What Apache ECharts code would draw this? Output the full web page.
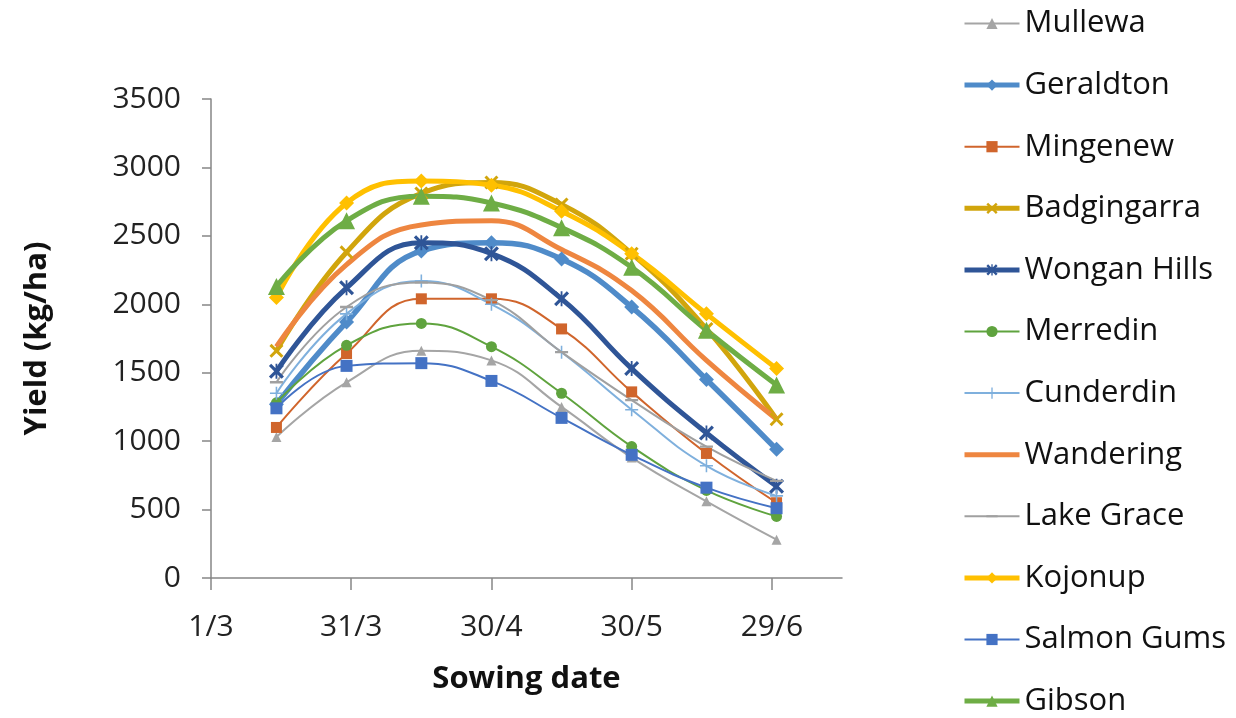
<!DOCTYPE html>
<html>
<head>
<meta charset="utf-8">
<script src="https://cdn.jsdelivr.net/npm/echarts@6/dist/echarts.min.js"></script>
<style>html,body{margin:0;padding:0;background:#fff}#c{width:1236px;height:718px}</style>
</head>
<body>
<div id="c"></div>
<script>
// Sowing dates as days after 1 March: 15/3, 30/3, 15/4, 30/4, 15/5, 30/5, 15/6, 30/6
const sowingDays = [14, 29, 45, 60, 75, 90, 106, 121];
const xTickValues = [0, 30, 60, 90, 120];
const xTickLabels = ['1/3', '31/3', '30/4', '30/5', '29/6'];

const mullewa     = [1030, 1430, 1660, 1590, 1250, 880, 560, 280];
const geraldton   = [1270, 1870, 2390, 2450, 2330, 1980, 1450, 940];
const mingenew    = [1100, 1640, 2040, 2040, 1820, 1360, 910, 550];
const badgingarra = [1660, 2380, 2810, 2890, 2730, 2370, 1820, 1160];
const wonganHills = [1510, 2120, 2450, 2370, 2040, 1530, 1060, 670];
const merredin    = [1280, 1700, 1860, 1690, 1350, 960, 640, 450];
const cunderdin   = [1350, 1930, 2170, 2000, 1650, 1230, 820, 600];
const wandering   = [1690, 2290, 2580, 2610, 2400, 2100, 1590, 1160];
const lakeGrace   = [1430, 1980, 2160, 2030, 1650, 1300, 960, 710];
const kojonup     = [2050, 2740, 2900, 2870, 2680, 2370, 1930, 1530];
const salmonGums  = [1240, 1550, 1570, 1440, 1170, 900, 660, 510];
const gibson      = [2130, 2610, 2790, 2740, 2560, 2270, 1810, 1410];

const X_PATH = 'path://M0,1.5L1.5,0L5,3.5L8.5,0L10,1.5L6.5,5L10,8.5L8.5,10L5,6.5L1.5,10L0,8.5L3.5,5Z';
const STAR_PATH = 'path://M0,1.5L1.5,0L5,3.5L8.5,0L10,1.5L6.5,5L10,8.5L8.5,10L5,6.5L1.5,10L0,8.5L3.5,5Z M4.4,0L5.6,0L5.6,10L4.4,10Z';
const PLUS_PATH = 'path://M4.4,0H5.6V4.4H10V5.6H5.6V10H4.4V5.6H0V4.4H4.4Z';
const DASH_PATH = 'path://M0,0L0.01,0L0,0.01Z M0,4.1H10V5.9H0Z M10,10L9.99,10L10,9.99Z';

function pts(vals) { return vals.map((v, i) => [sowingDays[i], v]); }

const defs = [
  {name: 'Mullewa', data: mullewa, color: '#A5A5A5', width: 2, symbol: 'triangle', size: 10},
  {name: 'Geraldton', data: geraldton, color: '#4F8BC9', width: 5.5, symbol: 'diamond', size: 15},
  {name: 'Mingenew', data: mingenew, color: '#D0652C', width: 2, symbol: 'rect', size: 11},
  {name: 'Badgingarra', data: badgingarra, color: '#D1A50C', width: 5, symbol: X_PATH, size: 14},
  {name: 'Wongan Hills', data: wonganHills, color: '#2F5597', width: 5, symbol: STAR_PATH, size: 15},
  {name: 'Merredin', data: merredin, color: '#5FA33E', width: 2, symbol: 'circle', size: 11},
  {name: 'Cunderdin', data: cunderdin, color: '#7FB0DD', width: 2, symbol: PLUS_PATH, size: 13},
  {name: 'Wandering', data: wandering, color: '#EE8640', width: 5, symbol: 'none', size: 0},
  {name: 'Lake Grace', data: lakeGrace, color: '#A0A0A0', width: 2, symbol: DASH_PATH, size: 13},
  {name: 'Kojonup', data: kojonup, color: '#FFC000', width: 5, symbol: 'diamond', size: 15},
  {name: 'Salmon Gums', data: salmonGums, color: '#4472C4', width: 2, symbol: 'rect', size: 12},
  {name: 'Gibson', data: gibson, color: '#6EAD45', width: 5, symbol: 'triangle', size: 17}
];

const chart = echarts.init(document.getElementById('c'), null, {renderer: 'canvas'});
chart.setOption({
  animation: false,
  backgroundColor: '#fff',
  textStyle: {fontFamily: 'Open Sans'},
  grid: {left: 211, top: 99, width: 631, height: 479, containLabel: false},
  legend: {
    orient: 'vertical',
    left: 962,
    top: 8,
    bottom: 0,
    padding: 0,
    itemWidth: 55,
    itemHeight: 14,
    itemGap: 30.6,
    textStyle: {fontFamily: 'Open Sans', fontSize: 31, color: '#111'},
    data: defs.map(d => {
      const item = {name: d.name, lineStyle: {width: Math.min(d.width, 5)}};
      if (d.symbol === 'none') item.itemStyle = {color: 'rgba(0,0,0,0)', borderWidth: 0};
      return item;
    })
  },
  xAxis: {
    type: 'value',
    min: 0, max: 135, interval: 30,
    name: 'Sowing date',
    nameLocation: 'middle',
    nameGap: 86,
    nameTextStyle: {fontFamily: 'Open Sans', fontWeight: 'bold', fontSize: 31, color: '#111'},
    axisLine: {show: true, lineStyle: {color: '#868686', width: 1.5}},
    axisTick: {show: true, length: 12, lineStyle: {color: '#868686', width: 1.5}, customValues: xTickValues},
    axisLabel: {
      fontSize: 30, color: '#222', margin: 34,
      customValues: xTickValues,
      formatter: v => { const i = xTickValues.indexOf(v); return i >= 0 ? xTickLabels[i] : ''; }
    },
    splitLine: {show: false}
  },
  yAxis: {
    type: 'value',
    min: 0, max: 3500, interval: 500,
    name: 'Yield (kg/ha)',
    nameLocation: 'middle',
    nameGap: 158,
    nameRotate: 90,
    nameTextStyle: {fontFamily: 'Open Sans', fontWeight: 'bold', fontSize: 31, color: '#111'},
    axisLine: {show: true, lineStyle: {color: '#868686', width: 1.5}},
    axisTick: {show: true, length: 9, lineStyle: {color: '#868686', width: 1.5}},
    axisLabel: {fontSize: 30, color: '#222', margin: 30, formatter: v => String(v)},
    splitLine: {show: false}
  },
  series: defs.map(d => ({
    name: d.name,
    type: 'line',
    data: pts(d.data),
    smooth: 0.45,
    showSymbol: d.symbol !== 'none',
    symbol: d.symbol,
    symbolSize: d.size,
    lineStyle: {color: d.color, width: d.width},
    itemStyle: {color: d.color},
    emphasis: {disabled: true}
  }))
});
</script>
</body>
</html>
